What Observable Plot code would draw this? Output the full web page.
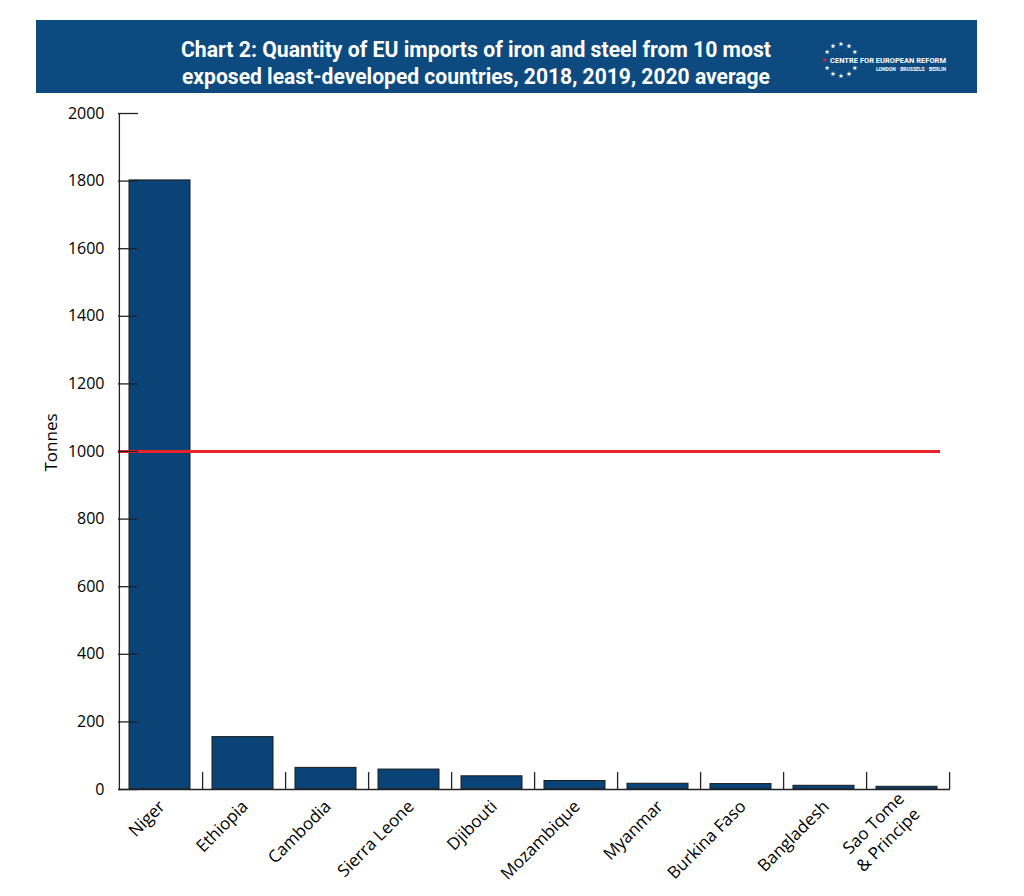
<!DOCTYPE html>
<html>
<head>
<meta charset="utf-8">
<script src="https://cdn.jsdelivr.net/npm/d3@7"></script>
<script src="https://cdn.jsdelivr.net/npm/@observablehq/plot@0.6"></script>
<style>
  body { margin: 0; background: #fff; }
  #wrap { position: relative; width: 1024px; height: 896px; }
  #header { position: absolute; left: 36px; top: 20px; width: 941px; height: 73px; background: #0c4a7f; }
  #header svg { position: absolute; left: 0; top: 0; }
  #chart { position: absolute; left: 0; top: 93px; }
</style>
</head>
<body>
<div id="wrap">
  <div id="header">
    <svg id="headsvg" width="941" height="73"></svg>
  </div>
  <div id="chart"></div>
</div>
<script>
const titleLines = ["Chart 2: Quantity of EU imports of iron and steel from 10 most", "exposed least-developed countries, 2018, 2019, 2020 average"];
const countries = ["Niger", "Ethiopia", "Cambodia", "Sierra Leone", "Djibouti", "Mozambique", "Myanmar", "Burkina Faso", "Bangladesh", "Sao Tome & Principe"];
const countryLabels = ["Niger", "Ethiopia", "Cambodia", "Sierra Leone", "Djibouti", "Mozambique", "Myanmar", "Burkina Faso", "Bangladesh", "Sao Tome\n& Principe"];
const tonnes = [1802, 155, 64, 59, 39, 25, 17, 16, 11, 8];
const yTicks = [0, 200, 400, 600, 800, 1000, 1200, 1400, 1600, 1800, 2000];
const threshold = [1000];

const data = countries.map((c, i) => ({country: c, value: tonnes[i]}));
const labelOf = new Map(countries.map((c, i) => [c, countryLabels[i]]));

const W = 1024, ML = 118, MR = 74;
const band = (W - ML - MR) / countries.length;

const chart = Plot.plot({
  width: W,
  height: 803,
  marginLeft: ML,
  marginRight: MR,
  marginTop: 20,
  marginBottom: 107,
  style: {fontFamily: "'Open Sans', sans-serif", fontSize: "16px", color: "#000", background: "#fff"},
  x: {domain: countries, padding: 0, label: null},
  y: {domain: [0, 2000], label: null},
  marks: [
    Plot.barY(data, {x: "country", y: "value", fill: "#0a4477", stroke: "#1a1a1a", strokeWidth: 1, insetLeft: 10, insetRight: 12}),
    Plot.ruleY(threshold, {stroke: "#e8232b", strokeWidth: 3, insetRight: 10}),
    Plot.ruleY([0], {stroke: "#222", strokeWidth: 1.3}),
    Plot.ruleX([countries[0]], {dx: -band / 2, y1: 0, y2: 2000, stroke: "#222", strokeWidth: 1.3}),
    Plot.ruleY(yTicks, {stroke: "#222", strokeWidth: 1.3, insetRight: (W - ML - MR) - 20}),
    Plot.ruleX(countries, {dx: band / 2, y1: 0, y2: 50, stroke: "#222", strokeWidth: 1.3}),
    Plot.axisY({ticks: yTicks, tickSize: 0, tickPadding: 14, fontSize: 16, label: null, tickFormat: d => String(d)}),
    Plot.axisX({tickSize: 0, tickRotate: -45, tickPadding: 13, fontSize: 17, lineHeight: 1.3, label: null, tickFormat: d => labelOf.get(d)}),
    Plot.text(["Tonnes"], {frameAnchor: "left", dx: -67, dy: -9, rotate: -90, fontSize: 17, fill: "#000", textAnchor: "middle"})
  ]
});
document.getElementById("chart").appendChild(chart);

// header: title + logo
const head = d3.select("#headsvg");
const tfont = "Roboto, 'Open Sans', sans-serif";
head.selectAll("text.title").data(titleLines).join("text").attr("class", "title")
  .attr("x", 440).attr("y", (d, i) => 37 + i * 27)
  .attr("text-anchor", "middle").attr("fill", "#fff")
  .attr("font-family", tfont).attr("font-weight", "bold").attr("font-size", 22)
  .attr("textLength", (d, i) => i === 0 ? 590 : 588).attr("lengthAdjust", "spacingAndGlyphs")
  .text(d => d);

const cx = 805, cy = 40, r = 16;
const starPath = d3.symbol(d3.symbolStar, 9)();
for (let k = 1; k < 12; k++) {
  const a = k * Math.PI / 6;
  const x = cx + r * Math.cos(a), y = cy + r * Math.sin(a);
  head.append("path").attr("d", starPath).attr("transform", `translate(${x},${y})`)
    .attr("fill", k === 6 ? "#e8232b" : "#fff");
}
head.append("text").attr("x", 794).attr("y", 42.5).attr("fill", "#fff")
  .attr("font-family", tfont).attr("font-weight", "bold").attr("font-size", 8)
  .attr("textLength", 116).attr("lengthAdjust", "spacingAndGlyphs")
  .text("CENTRE FOR EUROPEAN REFORM");
head.append("text").attr("x", 840).attr("y", 50.5).attr("fill", "#fff")
  .attr("font-family", tfont).attr("font-size", 5).attr("font-weight", "bold")
  .attr("textLength", 70).attr("lengthAdjust", "spacingAndGlyphs")
  .html('LONDON <tspan fill="#e8232b">•</tspan> BRUSSELS <tspan fill="#e8232b">•</tspan> BERLIN');
</script>
</body>
</html>
